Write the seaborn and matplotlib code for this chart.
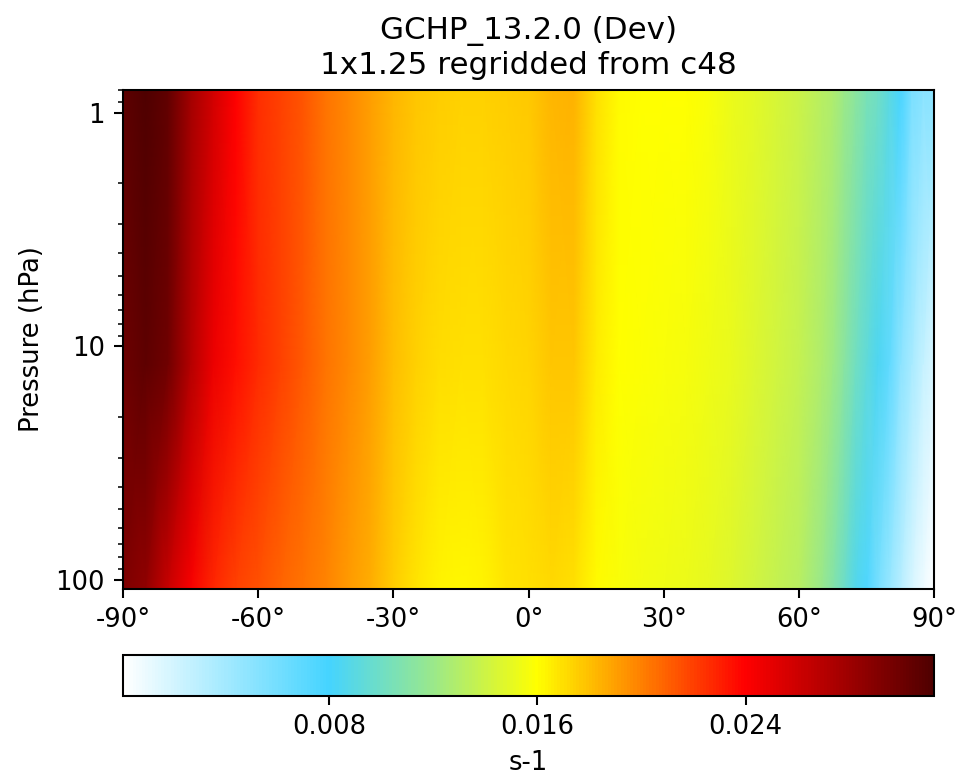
import numpy as np
import matplotlib
matplotlib.use("Agg")
import matplotlib.pyplot as plt
from matplotlib.colors import LinearSegmentedColormap
from matplotlib.ticker import FixedLocator, FixedFormatter, NullFormatter, LogLocator
import seaborn as sns

# ---------------- data ----------------
title_line1 = "GCHP_13.2.0 (Dev)"
title_line2 = "1x1.25 regridded from c48"
units = "s-1"

lats = [-90, -85, -80, -75, -70, -65, -60, -55, -50, -45, -40, -35, -30, -25,
        -20, -15, -10, -5, 0, 5, 10, 15, 20, 25, 30, 35, 40, 45, 50, 55, 60,
        65, 67.5, 70, 72.5, 75, 77.5, 80, 82.5, 85, 87.5, 90]

pressures = [0.794, 12.0, 109.1]   # hPa: top, middle, bottom of the panel

vals_top = [0.0306, 0.0312, 0.0305, 0.0278, 0.0258, 0.0240, 0.0225, 0.0219,
            0.0213, 0.0204, 0.0197, 0.0190, 0.0183, 0.0178, 0.0176, 0.0175,
            0.0175, 0.0176, 0.0177, 0.0183, 0.0184, 0.0169, 0.0161, 0.0160,
            0.0160, 0.0160, 0.0157, 0.0153, 0.0149, 0.0144, 0.0139, 0.0132,
            0.0128, 0.0121, 0.0113, 0.0105, 0.0100, 0.0090, 0.0078, 0.0058,
            0.0052, 0.0050]
vals_mid = [0.0300, 0.0306, 0.0298, 0.0270, 0.0248, 0.0235, 0.0227, 0.0220,
            0.0212, 0.0203, 0.0197, 0.0190, 0.0180, 0.0174, 0.0171, 0.0170,
            0.0170, 0.0172, 0.0173, 0.0178, 0.0178, 0.0166, 0.0160, 0.0158,
            0.0157, 0.0156, 0.0154, 0.0151, 0.0147, 0.0142, 0.0137, 0.0128,
            0.0122, 0.0112, 0.0101, 0.0093, 0.0084, 0.0068, 0.0050, 0.0038,
            0.0026, 0.0018]
vals_bot = [0.0292, 0.0285, 0.0262, 0.0243, 0.0228, 0.0220, 0.0214, 0.0208,
            0.0204, 0.0199, 0.0192, 0.0185, 0.0176, 0.0168, 0.0164, 0.0162,
            0.0164, 0.0168, 0.0170, 0.0172, 0.0170, 0.0161, 0.0157, 0.0155,
            0.0154, 0.0152, 0.0150, 0.0146, 0.0142, 0.0137, 0.0132, 0.0120,
            0.0110, 0.0099, 0.0087, 0.0076, 0.0059, 0.0045, 0.0032, 0.0019,
            0.0009, 0.0002]

vmin, vmax = 0.0001, 0.03125
cbar_ticks = [0.008, 0.016, 0.024]
cbar_ticklabels = ["0.008", "0.016", "0.024"]
xticks = [-90, -60, -30, 0, 30, 60, 90]
xticklabels = ["-90°", "-60°", "-30°", "0°", "30°", "60°", "90°"]
yticks = [1, 10, 100]
yticklabels = ["1", "10", "100"]

# ---------------- style ----------------
sns.set_style("ticks")
plt.rcParams.update({
    "font.family": ["DejaVu Sans"],
    "font.size": 10,
    "axes.edgecolor": "black",
    "axes.linewidth": 0.8,
    "xtick.color": "black",
    "ytick.color": "black",
    "xtick.major.size": 3.5,
    "ytick.major.size": 3.5,
    "ytick.minor.size": 2.0,
    "xtick.major.width": 0.8,
    "ytick.major.width": 0.8,
    "ytick.minor.width": 0.6,
    "text.color": "black",
    "axes.labelcolor": "black",
})

# White -> light blue -> cyan -> green -> yellow -> orange -> red -> dark red
cmap = LinearSegmentedColormap.from_list(
    "WhGrYlRd",
    [(0.00, (1.00, 1.00, 1.00)),
     (0.253, (0.27, 0.83, 1.00)),
     (0.38, (0.60, 0.91, 0.55)),
     (0.51, (1.00, 1.00, 0.00)),
     (0.64, (1.00, 0.50, 0.00)),
     (0.767, (1.00, 0.00, 0.00)),
     (1.00, (0.31, 0.00, 0.00))], N=256)

Z = np.array([vals_top, vals_mid, vals_bot])
X, Y = np.meshgrid(np.array(lats), np.array(pressures))

DPI = 186
fig = plt.figure(figsize=(974 / DPI, 777 / DPI), dpi=DPI)
ax = fig.add_axes([0.1263, 0.2425, 0.8331, 0.6423])
cax = fig.add_axes([0.1263, 0.1046, 0.8331, 0.0524])

mesh = ax.pcolormesh(X, Y, Z, cmap=cmap, vmin=vmin, vmax=vmax,
                     shading="gouraud", rasterized=True)

ax.set_yscale("log")
ax.set_xlim(-90, 90)
ax.set_ylim(109.1, 0.794)
ax.yaxis.set_major_locator(FixedLocator(yticks))
ax.yaxis.set_major_formatter(FixedFormatter(yticklabels))
ax.yaxis.set_minor_locator(LogLocator(base=10, subs=np.arange(2, 10)))
ax.yaxis.set_minor_formatter(NullFormatter())
ax.set_xticks(xticks)
ax.set_xticklabels(xticklabels)
ax.set_ylabel("Pressure (hPa)")
ax.set_title(title_line1 + "\n" + title_line2, fontsize=12)
for s in ax.spines.values():
    s.set_visible(True)
    s.set_linewidth(0.8)

cb = fig.colorbar(mesh, cax=cax, orientation="horizontal")
cb.set_ticks(cbar_ticks)
cb.set_ticklabels(cbar_ticklabels)
cb.set_label(units)
cb.outline.set_linewidth(0.8)
cb.outline.set_edgecolor("black")
cax.tick_params(length=3.5, width=0.8)

fig.savefig("out.png", dpi=DPI)
